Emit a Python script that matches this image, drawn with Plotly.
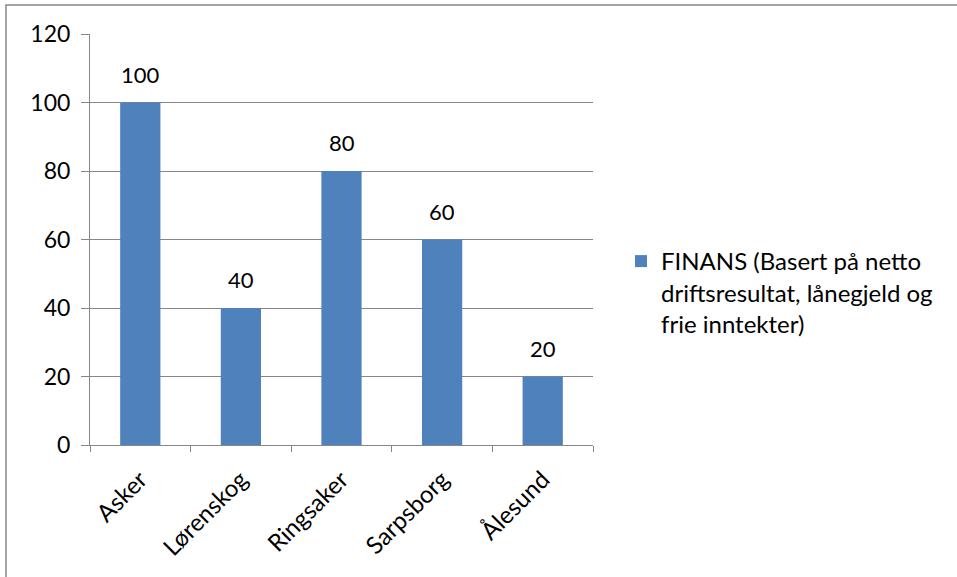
import plotly.graph_objects as go

# Kommuner og FINANS-poeng
kommuner = ["Asker", "Lørenskog", "Ringsaker", "Sarpsborg", "Ålesund"]
finans = [100, 40, 80, 60, 20]
serie_navn = "FINANS (Basert på netto<br>driftsresultat, lånegjeld og<br>frie inntekter)"
y_ticks = [0, 20, 40, 60, 80, 100, 120]

W, H = 957, 577
ML, MR, MT, MB = 90, 364, 34, 132
PW, PH = W - ML - MR, H - MT - MB

FONT = "Lato"
GRID = "#868686"

fig = go.Figure(
    go.Bar(
        x=kommuner,
        y=finans,
        name=serie_navn,
        marker=dict(color="#4F81BD", line=dict(width=0)),
        showlegend=True,
    )
)

# Verdietiketter over søylene
for k, v in zip(kommuner, finans):
    fig.add_annotation(
        x=k,
        y=v,
        text=str(v),
        showarrow=False,
        xanchor="center",
        yanchor="bottom",
        yshift=13,
        font=dict(family=FONT, size=22, color="#000000"),
    )

fig.update_layout(
    width=W,
    height=H,
    margin=dict(l=ML, r=MR, t=MT, b=MB),
    paper_bgcolor="white",
    plot_bgcolor="white",
    bargap=0.6,
    font=dict(family=FONT, size=23, color="#000000"),
    legend=dict(
        x=(621 - ML) / PW,
        y=(MT + PH - 239) / PH,
        xanchor="left",
        yanchor="top",
        valign="top",
        font=dict(family=FONT, size=24, color="#000000"),
        bgcolor="rgba(0,0,0,0)",
        itemwidth=30,
    ),
    xaxis=dict(
        type="category",
        tickangle=-45,
        showline=True,
        linecolor=GRID,
        linewidth=1,
        ticks="outside",
        tickson="boundaries",
        ticklen=6,
        tickcolor=GRID,
        showgrid=False,
        ticklabelstandoff=10,
        tickfont=dict(family=FONT, size=24),
    ),
    yaxis=dict(
        range=[0, 120],
        tickvals=y_ticks,
        showline=True,
        linecolor=GRID,
        linewidth=1,
        ticks="outside",
        ticklen=8,
        tickcolor=GRID,
        showgrid=True,
        gridcolor=GRID,
        gridwidth=1,
        zeroline=False,
        ticklabelstandoff=6,
        tickfont=dict(family=FONT, size=23),
    ),
)

# Ramme rundt diagrammet (høyre og nedre kant ligger utenfor bildet)
fig.add_shape(
    type="rect",
    xref="paper",
    yref="paper",
    x0=(6 - ML) / PW,
    x1=(970 - ML) / PW,
    y0=(MT + PH - 600) / PH,
    y1=(MT + PH - 5) / PH,
    line=dict(color="#888888", width=1.5),
    fillcolor="rgba(0,0,0,0)",
    layer="below",
)

fig.write_html("out.html")
